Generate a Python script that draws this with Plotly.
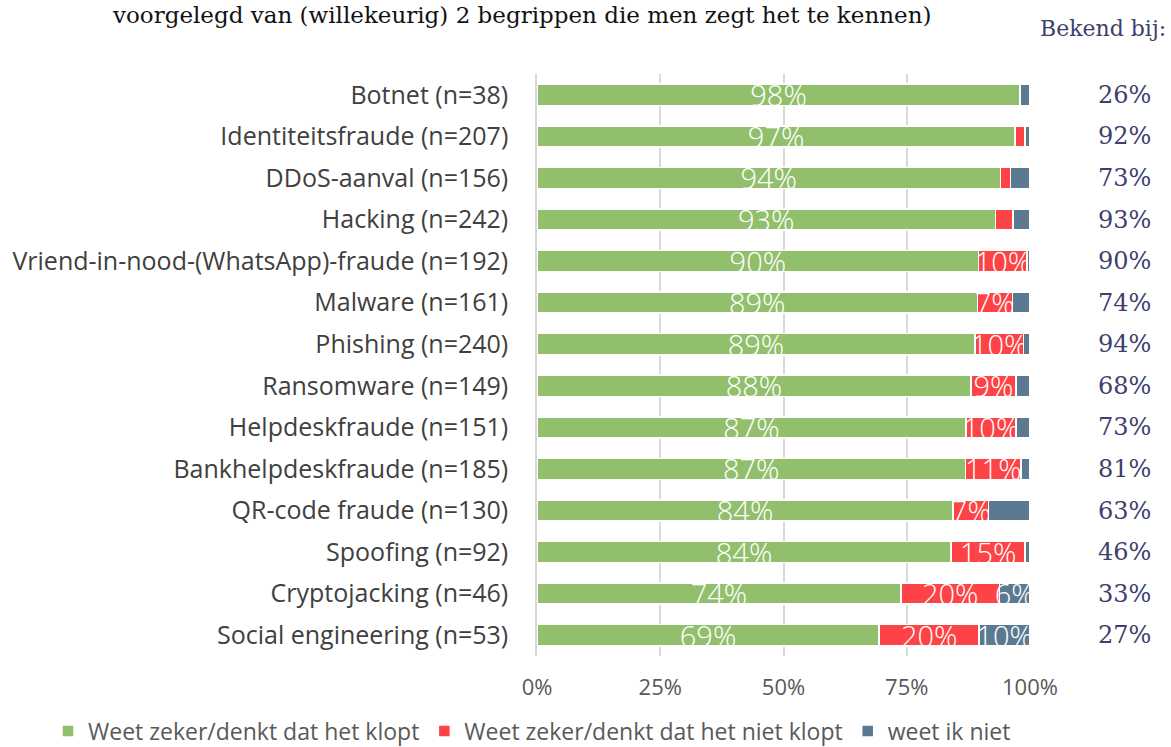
import plotly.graph_objects as go

categories = [
    "Botnet (n=38)", "Identiteitsfraude (n=207)", "DDoS-aanval (n=156)", "Hacking (n=242)",
    "Vriend-in-nood-(WhatsApp)-fraude (n=192)", "Malware (n=161)", "Phishing (n=240)",
    "Ransomware (n=149)", "Helpdeskfraude (n=151)", "Bankhelpdeskfraude (n=185)",
    "QR-code fraude (n=130)", "Spoofing (n=92)", "Cryptojacking (n=46)", "Social engineering (n=53)",
]
klopt = [98.0, 97.0, 94.0, 93.0, 89.6, 89.3, 88.8, 88.0, 87.0, 86.9, 84.4, 84.0, 73.8, 69.4]
niet_klopt = [0.0, 2.0, 2.0, 3.6, 9.8, 7.1, 9.9, 9.2, 10.2, 11.3, 7.2, 15.0, 20.0, 20.3]
weet_niet = [2.0, 1.0, 4.0, 3.4, 0.6, 3.6, 1.3, 2.8, 2.8, 1.8, 8.4, 1.0, 6.2, 10.3]
bekend = ["26%", "92%", "73%", "93%", "90%", "74%", "94%", "68%", "73%", "81%", "63%", "46%", "33%", "27%"]
series_names = ["Weet zeker/denkt dat het klopt", "Weet zeker/denkt dat het niet klopt", "weet ik niet"]
colors = ["#92bf6c", "#fd4345", "#5b7a92"]
label_min = 5.5
xticks = [0, 25, 50, 75, 100]

W, H = 1171, 747
L, R, T, B = 537, 141, 74, 91
PW, PH = W - L - R, H - T - B
SERIF = "DejaVu Serif"


def px_x(px):
    return (px - L) / PW


def px_y(py):
    return 1 - (py - T) / PH


fig = go.Figure()
for name, vals, col in zip(series_names, [klopt, niet_klopt, weet_niet], colors):
    texts = [f"{round(v):.0f}%" if v >= label_min else "" for v in vals]
    fig.add_trace(go.Bar(
        y=categories, x=vals, name=name, orientation="h",
        marker=dict(color=col, line=dict(color="white", width=1.5)),
        text=texts, texttemplate="%{text}", textposition="inside", textangle=0,
        insidetextanchor="middle", constraintext="none",
        textfont=dict(family="Open Sans", size=29, color="white", weight=300),
        hoverinfo="skip", cliponaxis=False,
    ))

for cat, b in zip(categories, bekend):
    fig.add_annotation(x=px_x(1153), y=cat, xref="paper", yref="y", text=b, showarrow=False,
                       xanchor="right", font=dict(family=SERIF, size=24, color="#3d3f6e"))

fig.add_annotation(x=px_x(1168), y=px_y(28), xref="paper", yref="paper", text="Bekend bij:",
                   showarrow=False, xanchor="right", yanchor="middle",
                   font=dict(family=SERIF, size=22, color="#3d3f6e"))
fig.add_annotation(x=px_x(521), y=px_y(15), xref="paper", yref="paper",
                   text="voorgelegd van (willekeurig) 2 begrippen die men zegt het te kennen)",
                   showarrow=False, xanchor="center", yanchor="middle",
                   font=dict(family=SERIF, size=23, color="#111111"))

fig.update_layout(
    width=W, height=H, barmode="stack", bargap=0.49,
    margin=dict(l=L, r=R, t=T, b=B, autoexpand=False),
    paper_bgcolor="white", plot_bgcolor="white",
    font=dict(family="Open Sans", color="#595959"),
    xaxis=dict(range=[0, 100], tickvals=xticks, ticktext=[f"{t}%" for t in xticks],
               showgrid=True, gridcolor="#d9d9d9", gridwidth=1.5, zeroline=False,
               tickfont=dict(size=22, color="#595959"), ticks="", ticklabelstandoff=16,
               showline=False, fixedrange=True, automargin=False),
    yaxis=dict(autorange="reversed", tickfont=dict(size=25, color="#404040"),
               ticks="", ticklabelstandoff=22, showline=True, linecolor="#d9d9d9", linewidth=1.5,
               automargin=False),
    legend=dict(orientation="h", x=px_x(48), y=px_y(731),
                xanchor="left", yanchor="middle", font=dict(size=23, color="#595959"),
                traceorder="normal", itemwidth=30),
    showlegend=True,
)

fig.write_html("out.html", config={"displayModeBar": False},
               post_script="document.body.style.margin='0';")
